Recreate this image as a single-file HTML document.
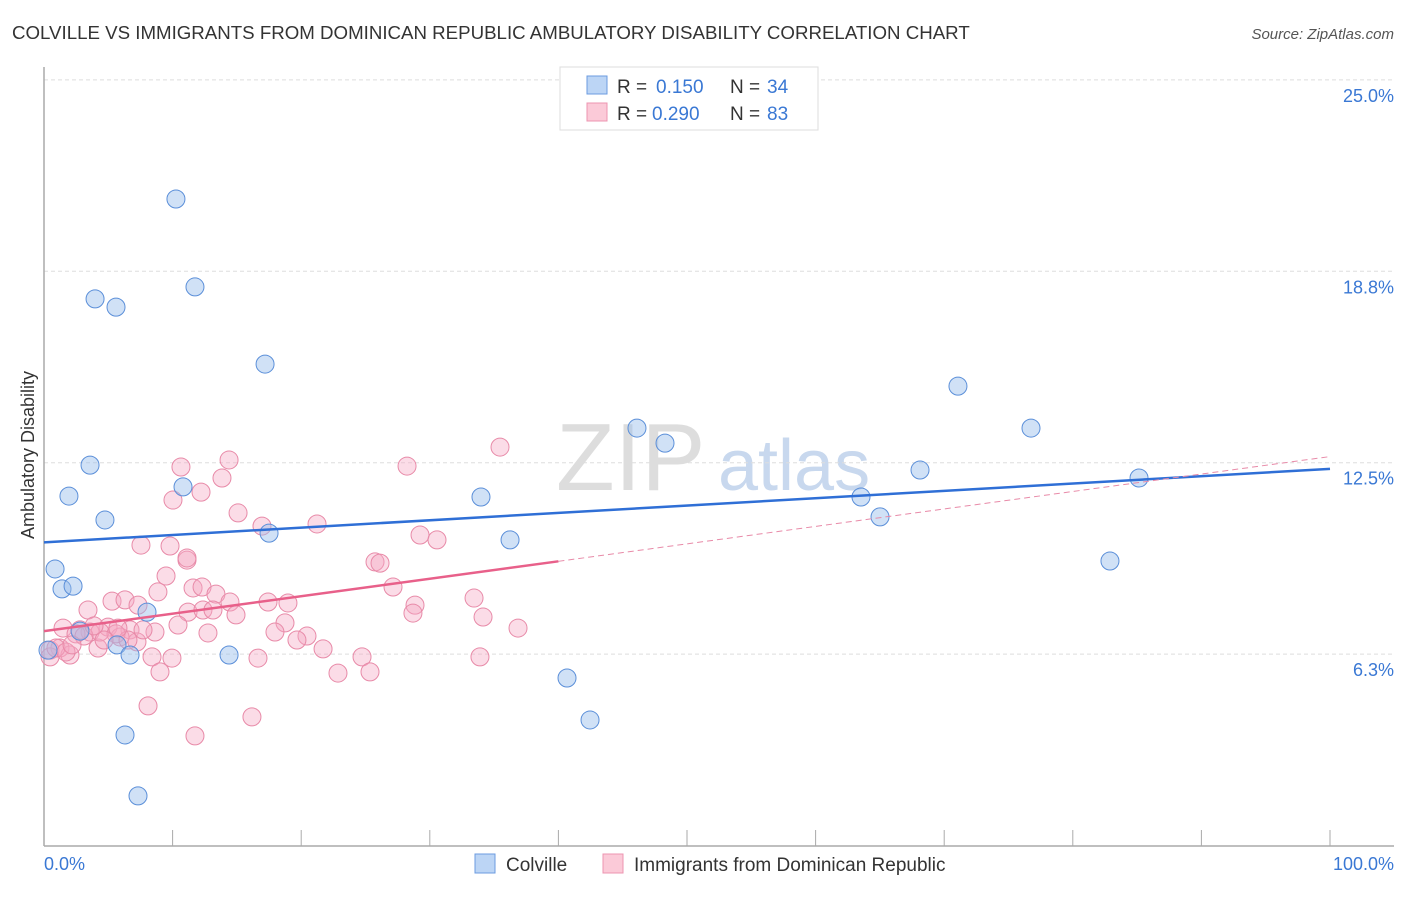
<!DOCTYPE html>
<html><head><meta charset="utf-8"><style>
body{margin:0;background:#fff;font-family:"Liberation Sans",sans-serif}
svg text{font-family:"Liberation Sans",sans-serif}
</style></head><body>
<svg id="c" width="1406" height="892">
<text x="12" y="39" font-size="18.7" fill="#333">COLVILLE VS IMMIGRANTS FROM DOMINICAN REPUBLIC AMBULATORY DISABILITY CORRELATION CHART</text>
<text x="1394" y="39" font-size="15" fill="#555" text-anchor="end" font-style="italic">Source: ZipAtlas.com</text>
<text x="556" y="490" font-size="96" fill="#ddd" font-family="Liberation Serif">ZIP</text>
<text x="718" y="490" font-size="72" fill="#c8d8ee">atlas</text>
<g id="grid"></g>
<g id="axes"></g>
<g id="pts"></g>
<g id="lines"></g>
<text transform="translate(34,455) rotate(-90)" font-size="18" fill="#333" text-anchor="middle">Ambulatory Disability</text>
<text x="44" y="870" font-size="18" fill="#3a78d4">0.0%</text>
<text x="1394" y="870" font-size="18" fill="#3a78d4" text-anchor="end">100.0%</text>
<g>
<rect x="560" y="67" width="258" height="63" fill="#fff" stroke="#ddd"/>
<rect x="587" y="76" width="20" height="18" fill="#bcd5f5" stroke="#6b9be0"/>
<text x="617" y="93" font-size="19" fill="#333">R =</text>
<text x="656" y="93" font-size="19" fill="#3a78d4">0.150</text>
<text x="730" y="93" font-size="19" fill="#333">N =</text>
<text x="767" y="93" font-size="19" fill="#3a78d4">34</text>
<rect x="587" y="103" width="20" height="18" fill="#fbcad8" stroke="#ec94b0"/>
<text x="617" y="120" font-size="19" fill="#333">R =</text>
<text x="652" y="120" font-size="19" fill="#3a78d4">0.290</text>
<text x="730" y="120" font-size="19" fill="#333">N =</text>
<text x="767" y="120" font-size="19" fill="#3a78d4">83</text>
</g>
<g>
<rect x="475" y="854" width="20" height="19" fill="#bcd5f5" stroke="#6b9be0"/>
<text x="506" y="871" font-size="19" fill="#333">Colville</text>
<rect x="603" y="854" width="20" height="19" fill="#fbcad8" stroke="#ec94b0"/>
<text x="634" y="871" font-size="19" fill="#333">Immigrants from Dominican Republic</text>
</g>
</svg>
<script>
const yTicks=[6.25,12.5,18.75,25];
const yTickLabels=["6.3%","12.5%","18.8%","25.0%"];
const bluePx=[[176,199],[95,299],[116,307],[195,287],[265,364],[90,465],[69,496],[183,487],[105,520],[269,533],[55,569],[62,589],[73,586],[147,612],[80,631],[117,645],[130,655],[229,655],[125,735],[138,796],[481,497],[510,540],[637,428],[665,443],[567,678],[590,720],[958,386],[1031,428],[920,470],[861,497],[880,517],[1139,478],[1110,561],[48,650]];
const pinkPx=[[187,560],[166,576],[158,592],[193,588],[202,587],[216,594],[112,601],[125,600],[138,605],[88,610],[230,602],[268,602],[288,603],[188,612],[203,610],[213,610],[236,615],[63,628],[80,630],[108,627],[130,630],[178,625],[155,632],[208,633],[285,623],[275,632],[307,636],[297,640],[323,649],[50,650],[60,648],[70,655],[98,648],[137,642],[152,657],[172,658],[258,658],[338,673],[160,672],[148,706],[252,717],[195,736],[50,657],[120,637],[90,632],[181,467],[229,460],[222,478],[201,492],[173,500],[141,545],[170,546],[238,513],[262,526],[317,524],[187,558],[407,466],[500,447],[420,535],[437,540],[375,562],[380,563],[393,587],[415,605],[413,613],[474,598],[483,617],[518,628],[480,657],[362,657],[370,672],[56,648],[66,652],[76,634],[100,632],[116,634],[128,640],[84,636],[72,645],[104,640],[143,630],[118,628],[94,626]];
const X0=44,X1=1330,Y0=845.5,YS=191.4/6.25;
const blueX=bluePx.map(p=>+((p[0]-X0)/(X1-X0)*100).toFixed(2));
const blueY=bluePx.map(p=>+((Y0-p[1])/YS).toFixed(2));
const pinkX=pinkPx.map(p=>+((p[0]-X0)/(X1-X0)*100).toFixed(2));
const pinkY=pinkPx.map(p=>+((Y0-p[1])/YS).toFixed(2));
const blueTrend=[9.9,12.3];
const pinkTrend=[7.0,12.7];
const xs=v=>X0+v/100*(X1-X0), ys=v=>Y0-v*YS;
const NS="http://www.w3.org/2000/svg";
function mk(t,a,parent){const e=document.createElementNS(NS,t);for(const k in a)e.setAttribute(k,a[k]);document.getElementById(parent).appendChild(e);return e;}
yTicks.forEach((t,i)=>{
 const g=mk('line',{x1:X0,x2:1394,y1:ys(t),y2:ys(t),stroke:'#ddd','stroke-dasharray':'4,3'},'grid');
 
 
 const l=mk('text',{x:1394,y:ys(t)+22,'font-size':18,fill:'#3a78d4','text-anchor':'end'},'grid');
 l.textContent=yTickLabels[i];
 
 
});
const ax=mk('line',{x1:X0,x2:X0,y1:67,y2:846,stroke:'#aaa','stroke-width':1.5},'axes');


const bx=mk('line',{x1:X0,x2:1394,y1:846,y2:846,stroke:'#aaa','stroke-width':1.5},'axes');


for(let i=0;i<=10;i++){const t=mk('line',{x1:xs(i*10),x2:xs(i*10),y1:830,y2:846,stroke:'#aaa'},'axes');
 
 }
pinkX.forEach((x,i)=>{const c=mk('circle',{cx:xs(x),cy:ys(pinkY[i]),r:9,fill:'rgba(244,168,194,0.4)',stroke:'#e88aa8','stroke-width':1},'pts');
 
 });
blueX.forEach((x,i)=>{const c=mk('circle',{cx:xs(x),cy:ys(blueY[i]),r:9,fill:'rgba(150,188,236,0.45)',stroke:'#5b8fd9','stroke-width':1},'pts');
 
 });
const bl=mk('line',{x1:xs(0),y1:ys(blueTrend[0]),x2:xs(100),y2:ys(blueTrend[1]),stroke:'#2f6fd6','stroke-width':2.5},'lines');


const pm=pinkTrend[0]+(pinkTrend[1]-pinkTrend[0])*0.4;
const ps=mk('line',{x1:xs(0),y1:ys(pinkTrend[0]),x2:xs(40),y2:ys(pm),stroke:'#e8608a','stroke-width':2.5},'lines');


const pd=mk('line',{x1:xs(40),y1:ys(pm),x2:xs(100),y2:ys(pinkTrend[1]),stroke:'#e88aa8','stroke-width':1,'stroke-dasharray':'6,4'},'lines');


</script>
</body></html>
